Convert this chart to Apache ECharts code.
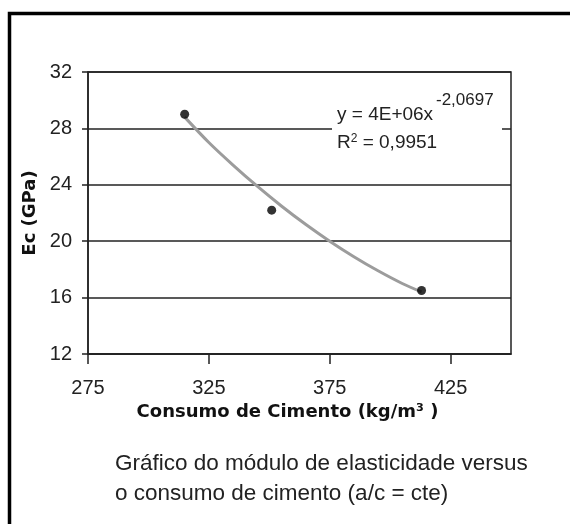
<!DOCTYPE html>
<html>
<head>
<meta charset="utf-8">
<title>Ec x Consumo de Cimento</title>
<script src="https://cdn.jsdelivr.net/npm/echarts@6/dist/echarts.min.js"></script>
<style>
  html, body { margin: 0; padding: 0; background: #fff; }
  #chart { width: 570px; height: 524px; }
</style>
</head>
<body>
<div id="chart"></div>
<script>
// ------------------------------------------------------------------
// Dados
// ------------------------------------------------------------------
const consumo = [315, 351, 413]          // kg/m3
const moduloEc = [29.0, 22.2, 16.5]      // GPa

// linha de tendência (potência), pontos lidos sobre a curva cinza
const trendX = [315, 325, 335, 345, 355, 365, 375, 385, 395, 405, 413]
const trendY = [28.8, 27.0, 25.4, 23.9, 22.5, 21.2, 20.0, 18.9, 17.9, 17.0, 16.4]

const xTicks = [275, 325, 375, 425]
const eqLine1 = 'y = 4E+06x'
const eqExp = '-2,0697'
const eqLine2 = '0,9951'
const caption = ['Gráfico do módulo de elasticidade versus', 'o consumo de cimento (a/c = cte)']

const ink = '#222'

const chart = echarts.init(document.getElementById('chart'))

chart.setOption({
  animation: false,
  backgroundColor: '#fff',
  grid: {
    left: 88,
    right: 59,
    top: 72,
    bottom: 170,
    show: true,
    borderColor: ink,
    borderWidth: 1.5,
    backgroundColor: 'transparent',
  },
  xAxis: {
    type: 'value',
    min: 275,
    max: 450,
    name: 'Consumo de Cimento (kg/m³ )',
    nameLocation: 'middle',
    nameGap: 46,
    nameTextStyle: {
      fontFamily: 'DejaVu Sans',
      fontWeight: 'bold',
      fontSize: 18,
      color: '#111',
      padding: [0, 24, 0, 0],
    },
    axisLine: { lineStyle: { color: ink, width: 1.5 } },
    axisTick: {
      customValues: xTicks,
      length: 10,
      lineStyle: { color: ink, width: 1.5 },
    },
    axisLabel: {
      customValues: xTicks,
      margin: 24,
      fontFamily: 'Liberation Sans',
      fontSize: 20,
      color: ink,
    },
    splitLine: { show: false },
  },
  yAxis: {
    type: 'value',
    min: 12,
    max: 32,
    interval: 4,
    name: 'Ec (GPa)',
    nameLocation: 'middle',
    nameGap: 46,
    nameTextStyle: {
      fontFamily: 'DejaVu Sans',
      fontWeight: 'bold',
      fontSize: 18,
      color: '#111',
    },
    axisLine: { show: true, lineStyle: { color: ink, width: 1.5 } },
    axisTick: { show: true, length: 6, lineStyle: { color: ink, width: 1.5 } },
    axisLabel: {
      margin: 16,
      fontFamily: 'Liberation Sans',
      fontSize: 20,
      color: ink,
    },
    splitLine: { lineStyle: { color: ink, width: 1.5 } },
  },
  series: [
    {
      name: 'tendência',
      type: 'line',
      data: trendX.map((x, i) => [x, trendY[i]]),
      smooth: 0.3,
      symbol: 'none',
      lineStyle: { color: '#9c9c9c', width: 3 },
      z: 2,
    },
    {
      name: 'Ec',
      type: 'scatter',
      data: consumo.map((x, i) => [x, moduloEc[i]]),
      symbol: 'circle',
      symbolSize: 9,
      itemStyle: { color: '#000' },
      z: 3,
    },
  ],
  graphic: [
    // moldura (só aparecem o lado esquerdo e o topo)
    {
      type: 'rect',
      shape: { x: 9.5, y: 13.5, width: 700, height: 700 },
      style: { fill: 'none', stroke: '#000', lineWidth: 3.5 },
      silent: true,
    },
    // caixa da equação
    {
      type: 'rect',
      z: 10,
      shape: { x: 332, y: 92, width: 170, height: 66 },
      style: { fill: '#fff' },
      silent: true,
    },
    {
      type: 'text',
      z: 11,
      left: 337,
      top: 105,
      style: {
        text: eqLine1,
        font: '19px "Liberation Sans"',
        fill: ink,
      },
    },
    {
      type: 'text',
      z: 11,
      left: 436,
      top: 92,
      style: {
        text: eqExp,
        font: '17px "Liberation Sans"',
        fill: ink,
      },
    },
    {
      type: 'text',
      z: 11,
      left: 337,
      top: 133,
      style: {
        text: 'R{s|2} = ' + eqLine2,
        font: '19px "Liberation Sans"',
        fill: ink,
        rich: {
          s: {
            fontSize: 12,
            fontFamily: 'Liberation Sans',
            fill: ink,
            verticalAlign: 'top',
          },
        },
      },
    },
    // legenda do gráfico
    {
      type: 'text',
      left: 115,
      top: 449,
      style: {
        text: caption.join('\n'),
        font: '22.5px "Liberation Sans"',
        lineHeight: 30,
        fill: '#222',
      },
    },
  ],
})
</script>
</body>
</html>
